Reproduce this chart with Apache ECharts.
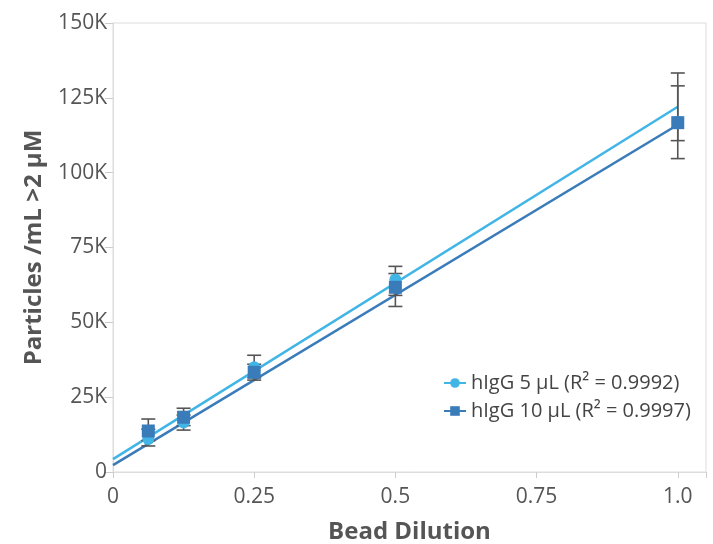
<!DOCTYPE html>
<html>
<head>
<meta charset="utf-8">
<script src="https://cdn.jsdelivr.net/npm/echarts@6/dist/echarts.min.js"></script>
<style>
  html, body { margin: 0; padding: 0; background: #fff; }
  #chart { width: 713px; height: 544px; }
</style>
</head>
<body>
<div id="chart"></div>
<script>
(() => {
  const chart = echarts.init(document.getElementById('chart'));

  // bead dilution (1/16 .. 1)
  const dilutions = [0.0625, 0.125, 0.25, 0.5, 1.0];

  const name5 = 'hIgG 5 µL (R² = 0.9992)';
  const name10 = 'hIgG 10 µL (R² = 0.9997)';

  // particle counts
  const values5 = [11000, 16500, 35000, 64300, 117000];
  const values10 = [13700, 18300, 33300, 61700, 116700];

  // error bar ranges [low, high]
  const err5 = [[8700, 14300], [14000, 19000], [30700, 39000], [59000, 68700], [104700, 133300]];
  const err10 = [[10500, 17700], [15500, 21300], [31500, 36000], [55300, 66300], [110700, 129000]];

  // fitted lines, value at x = 0 and at x = 1
  const fit5 = [4300, 122000];
  const fit10 = [2300, 116000];

  const lightBlue = '#40b5e6';
  const darkBlue = '#3a7bba';
  const grey = '#555';

  const pairs = (xs, ys) => xs.map((x, i) => [x, ys[i]]);

  const errorSeries = (err, name) => ({
    type: 'custom',
    name: name,
    z: 3,
    silent: true,
    data: dilutions.map((x, i) => [x, err[i][0], err[i][1]]),
    renderItem: (params, api) => {
      const lo = api.coord([api.value(0), api.value(1)]);
      const hi = api.coord([api.value(0), api.value(2)]);
      const w = 7;
      const style = { stroke: grey, lineWidth: 1.6 };
      return {
        type: 'group',
        children: [
          { type: 'line', shape: { x1: lo[0], y1: lo[1], x2: hi[0], y2: hi[1] }, style },
          { type: 'line', shape: { x1: lo[0] - w, y1: lo[1], x2: lo[0] + w, y2: lo[1] }, style },
          { type: 'line', shape: { x1: hi[0] - w, y1: hi[1], x2: hi[0] + w, y2: hi[1] }, style }
        ]
      };
    }
  });

  const option = {
    animation: false,
    textStyle: { fontFamily: 'Open Sans' },
    grid: {
      left: 113,
      right: 7,
      top: 23,
      bottom: 72,
      outerBoundsMode: 'none',
      containLabel: false,
      show: true,
      borderColor: '#ddd',
      borderWidth: 1
    },
    legend: {
      orient: 'vertical',
      left: 438,
      top: 368,
      itemWidth: 22,
      itemHeight: 12,
      itemGap: 8,
      data: [name5, name10],
      textStyle: { fontSize: 20, color: '#444', fontFamily: 'Open Sans' }
    },
    xAxis: {
      type: 'value',
      min: 0,
      max: 1.05,
      interval: 0.25,
      name: 'Bead Dilution',
      nameLocation: 'middle',
      nameGap: 48,
      nameTextStyle: { fontSize: 24, fontWeight: 'bold', color: '#555' },
      axisLine: { show: true, lineStyle: { color: '#ddd' } },
      axisTick: { show: true, length: 6, lineStyle: { color: '#ccc' } },
      splitLine: { show: false },
      axisLabel: {
        fontSize: 21,
        color: '#555',
        margin: 15,
        formatter: v => {
          if (Math.abs(v / 0.25 - Math.round(v / 0.25)) > 1e-6) return '';
          return v === 1 ? '1.0' : String(v);
        }
      }
    },
    yAxis: {
      type: 'value',
      min: 0,
      max: 150000,
      interval: 25000,
      name: 'Particles /mL >2 µM',
      nameLocation: 'middle',
      nameGap: 67,
      nameTextStyle: { fontSize: 24, fontWeight: 'bold', color: '#555' },
      axisLine: { show: true, lineStyle: { color: '#ddd' } },
      axisTick: { show: true, length: 8, lineStyle: { color: '#ccc' } },
      splitLine: { show: false },
      axisLabel: {
        fontSize: 21,
        color: '#555',
        margin: 6,
        formatter: v => (v === 0 ? '0' : v / 1000 + 'K')
      }
    },
    series: [
      {
        type: 'line',
        name: name5,
        data: [[0, fit5[0]], [1, fit5[1]]],
        symbol: 'circle',
        symbolSize: 11,
        showSymbol: false,
        itemStyle: { color: lightBlue },
        lineStyle: { color: lightBlue, width: 2.5 },
        z: 2
      },
      {
        type: 'line',
        name: name10,
        data: [[0, fit10[0]], [1, fit10[1]]],
        symbol: 'rect',
        symbolSize: 12,
        showSymbol: false,
        itemStyle: { color: darkBlue },
        lineStyle: { color: darkBlue, width: 2.5 },
        z: 2
      },
      errorSeries(err5, name5),
      errorSeries(err10, name10),
      {
        type: 'scatter',
        name: name5,
        data: pairs(dilutions, values5),
        symbol: 'circle',
        symbolSize: 12,
        itemStyle: { color: lightBlue, opacity: 1 },
        z: 4
      },
      {
        type: 'scatter',
        name: name10,
        data: pairs(dilutions, values10),
        symbol: 'rect',
        symbolSize: 13,
        itemStyle: { color: darkBlue, opacity: 1 },
        z: 5
      }
    ]
  };

  chart.setOption(option);
})();
</script>
</body>
</html>
